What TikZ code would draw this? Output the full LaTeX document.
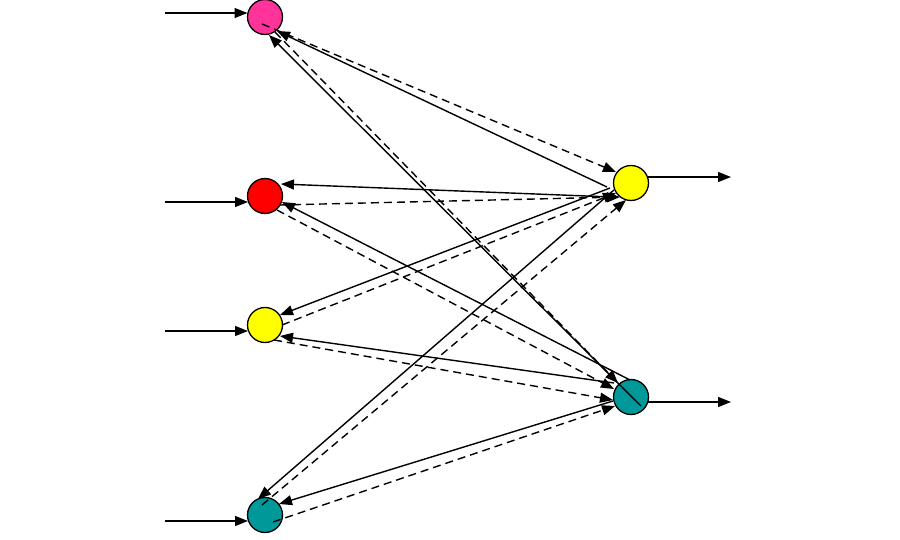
\documentclass[tikz,border=0pt]{standalone}
\usetikzlibrary{arrows.meta,calc}
\definecolor{pinkc}{HTML}{FF3399}
\definecolor{redc}{HTML}{FF0000}
\definecolor{yelc}{HTML}{FFFF00}
\definecolor{tealc}{HTML}{009999}
\begin{document}
\begin{tikzpicture}[x=1pt,y=-1pt,
  neuron/.style={circle,draw=black,line width=1.3pt,minimum size=35pt,inner sep=0pt},
  conn/.style={line width=1.4pt,-{Triangle[length=13pt,width=10pt]}},
  dconn/.style={conn,dash pattern=on 8pt off 5pt}]
\fill[white] (0,0) rectangle (900,540);
\useasboundingbox (0,0) rectangle (900,540);
% nodes
\node[neuron,fill=pinkc] (P) at (265,17) {};
\node[neuron,fill=redc] (R) at (265,196) {};
\node[neuron,fill=yelc] (Y1) at (265,325) {};
\node[neuron,fill=tealc] (T1) at (265,515) {};
\node[neuron,fill=yelc] (Y2) at (631,183) {};
\node[neuron,fill=tealc] (T2) at (631,397) {};
% inputs / outputs
\coordinate (inP) at (165,13);
\coordinate (inR) at (165,202);
\coordinate (inY) at (165,331);
\coordinate (inT) at (165,521);
\coordinate (outY) at (731,177);
\coordinate (outT) at (731,402);
\draw[conn] (inP) -- ($(P)+(-17.5,-4)$);
\draw[conn] (inR) -- ($(R)+(-17,6)$);
\draw[conn] (inY) -- ($(Y1)+(-17,6)$);
\draw[conn] (inT) -- ($(T1)+(-17,6)$);
\draw[conn] ($(Y2)+(17,-6)$) -- (outY);
\draw[conn] ($(T2)+(17,5)$) -- (outT);
% solid: right -> left
\draw[conn] ($(Y2)+(-24,4)$) -- ($(P)+(12,14)$);
\draw[conn] ($(T2)+(10,9)$) -- ($(P)+(4,18)$);
\draw[conn] ($(Y2)+(-19,14)$) -- ($(R)+(16,-12)$);
\draw[conn] ($(T2)+(-1,-17)$) -- ($(R)+(17,6)$);
\draw[conn] ($(Y2)+(-21,5)$) -- ($(Y1)+(15,-10)$);
\draw[conn] ($(T2)+(-17,-14)$) -- ($(Y1)+(15,11)$);
\draw[conn] ($(Y2)+(-17,7)$) -- ($(T1)+(-7,-16)$);
\draw[conn] ($(T2)+(-18,4)$) -- ($(T1)+(14,-11)$);
% dashed: left -> right
\draw[dconn] ($(P)+(-3,7)$) -- ($(Y2)+(-15,-11)$);
\draw[dconn] ($(P)+(10,15)$) -- ($(T2)+(-13,-14)$);
\draw[dconn] ($(R)+(15,9)$) -- ($(Y2)+(-11,14)$);
\draw[dconn] ($(R)+(12,14)$) -- ($(T2)+(-17,-8)$);
\draw[dconn] ($(Y1)+(17,0)$) -- ($(Y2)+(-15,10)$);
\draw[dconn] ($(Y1)+(9,15)$) -- ($(T2)+(-18,3)$);
\draw[dconn] ($(T1)+(-3,-10)$) -- ($(Y2)+(-5,17)$);
\draw[dconn] ($(T1)+(8,7)$) -- ($(T2)+(-16,9)$);
\end{tikzpicture}
\end{document}
